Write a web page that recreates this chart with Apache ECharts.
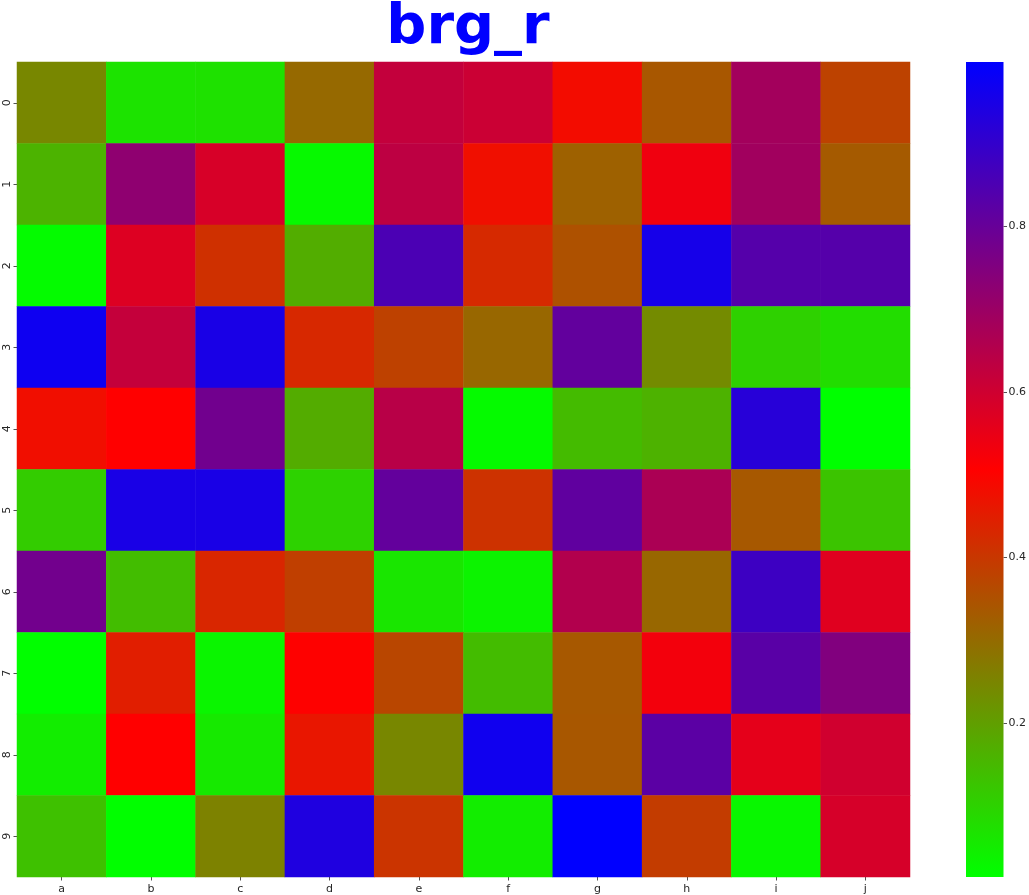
<!DOCTYPE html>
<html>
<head>
<meta charset="utf-8">
<script src="https://cdn.jsdelivr.net/npm/echarts@6/dist/echarts.min.js"></script>
<style>
html,body{margin:0;padding:0;background:#fff;}
#chart{width:1029px;height:895px;}
</style>
</head>
<body>
<div id="chart"></div>
<script>
const titleText = 'brg_r';
const xCategories = ['a','b','c','d','e','f','g','h','i','j'];
const yCategories = ['0','1','2','3','4','5','6','7','8','9'];
const row0 = [0.246,0.069,0.072,0.304,0.622,0.607,0.483,0.338,0.683,0.379];
const row1 = [0.161,0.722,0.583,0.026,0.633,0.477,0.319,0.535,0.687,0.333];
const row2 = [0.022,0.572,0.414,0.173,0.853,0.427,0.350,0.956,0.834,0.835];
const row3 = [0.971,0.620,0.950,0.429,0.381,0.308,0.809,0.238,0.103,0.080];
const row4 = [0.480,0.506,0.780,0.175,0.643,0.024,0.146,0.163,0.923,0.0145];
const row5 = [0.113,0.950,0.950,0.101,0.807,0.410,0.813,0.668,0.337,0.128];
const row6 = [0.778,0.142,0.433,0.385,0.063,0.038,0.655,0.308,0.880,0.566];
const row7 = [0.016,0.448,0.034,0.505,0.371,0.144,0.337,0.529,0.826,0.749];
const row8 = [0.049,0.506,0.057,0.464,0.246,0.967,0.338,0.823,0.556,0.597];
const row9 = [0.134,0.016,0.256,0.938,0.406,0.049,0.998,0.390,0.030,0.585];
const rows = [row0,row1,row2,row3,row4,row5,row6,row7,row8,row9];
const colorbarTicks = [0.2,0.4,0.6,0.8];
const vMin = 0.0145;
const vMax = 0.998;

const cmap = ['#00ff00','#ff0000','#0000ff'];
const data = [];
rows.forEach((r, yi) => r.forEach((v, xi) => data.push([xi, yi, v])));

const labelFont = {fontFamily: 'DejaVu Sans', fontSize: 11, color: '#262626'};

const chart = echarts.init(document.getElementById('chart'), null, {renderer: 'canvas'});
chart.setOption({
  animation: false,
  backgroundColor: '#ffffff',
  title: {
    text: titleText,
    left: 463, top: -5,
    textAlign: 'center',
    textStyle: {fontFamily: 'DejaVu Sans', fontWeight: 'bold', fontSize: 56, color: '#0000ff'}
  },
  grid: [
    {left: 17, top: 62, width: 893, height: 815},
    {left: 966, top: 62, width: 40, height: 815}
  ],
  xAxis: [
    {gridIndex: 0, type: 'category', data: xCategories, position: 'bottom',
     axisLine: {show: false},
     axisTick: {show: true, alignWithLabel: true, length: 3.5, lineStyle: {color: '#262626', width: 0.8}},
     axisLabel: Object.assign({margin: 7}, labelFont),
     splitLine: {show: false}},
    {gridIndex: 1, type: 'category', data: ['cb'], show: false}
  ],
  yAxis: [
    {gridIndex: 0, type: 'category', data: yCategories, inverse: true,
     axisLine: {show: false},
     axisTick: {show: true, alignWithLabel: true, length: 3.5, lineStyle: {color: '#262626', width: 0.8}},
     axisLabel: Object.assign({margin: 4, rotate: 90}, labelFont),
     splitLine: {show: false}},
    {gridIndex: 1, type: 'value', position: 'right', min: vMin, max: vMax,
     axisLine: {show: false},
     splitLine: {show: false},
     axisTick: {show: true, length: 3.5, customValues: colorbarTicks, lineStyle: {color: '#262626', width: 0.8}},
     axisLabel: Object.assign({margin: 5, customValues: colorbarTicks, formatter: v => v.toFixed(1)}, labelFont)}
  ],
  visualMap: {
    show: false, type: 'continuous', seriesIndex: 0, dimension: 2,
    min: vMin, max: vMax, inRange: {color: cmap}
  },
  series: [
    {type: 'heatmap', xAxisIndex: 0, yAxisIndex: 0, data: data,
     itemStyle: {borderWidth: 0}, emphasis: {disabled: true}},
    {type: 'bar', xAxisIndex: 1, yAxisIndex: 1, stack: 'cb', barWidth: '100%', clip: true,
     data: [vMin], itemStyle: {color: 'rgba(0,0,0,0)'}, silent: true},
    {type: 'bar', xAxisIndex: 1, yAxisIndex: 1, stack: 'cb', barWidth: '100%', clip: true,
     data: [vMax - vMin], silent: true,
     itemStyle: {color: new echarts.graphic.LinearGradient(0, 0, 0, 1, [
       {offset: 0, color: cmap[2]}, {offset: 0.5, color: cmap[1]}, {offset: 1, color: cmap[0]}
     ])}}
  ]
});
</script>
</body>
</html>
